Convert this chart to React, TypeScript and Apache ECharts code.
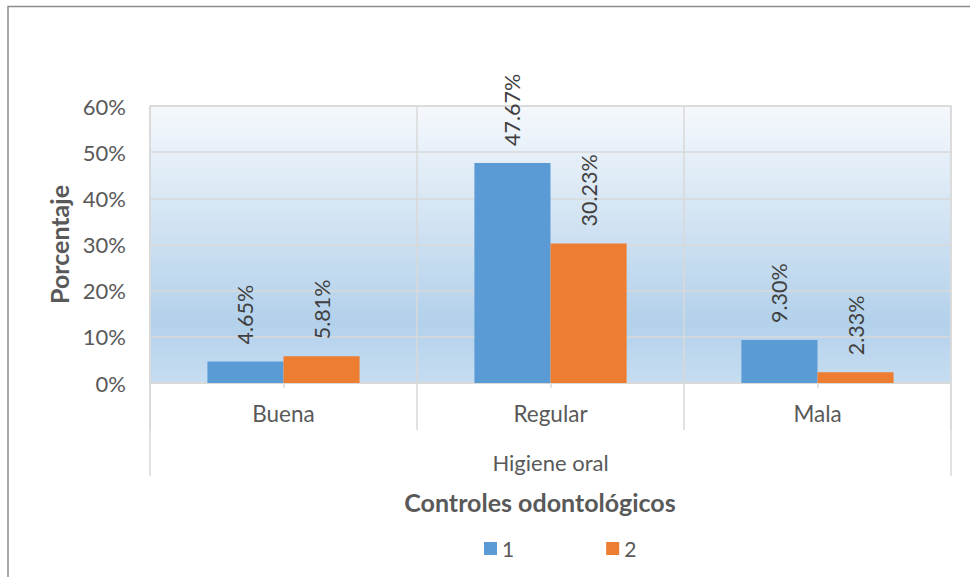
import React, { useEffect, useRef } from "react";
import * as echarts from "echarts";

// Higiene oral por número de controles odontológicos (porcentajes)
const categories = ["Buena", "Regular", "Mala"];
const serie1 = [4.65, 47.67, 9.3];
const serie2 = [5.81, 30.23, 2.33];
const seriesNames = ["1", "2"];
const yTicks = [0, 10, 20, 30, 40, 50, 60];
const groupLabel = ["Higiene oral"];

const FONT = "Lato, 'Open Sans', sans-serif";
const GRID = "#d9d9d9";

export default function App() {
  const ref = useRef<HTMLDivElement>(null);

  useEffect(() => {
    if (!ref.current) return;
    const chart = echarts.init(ref.current, null, { renderer: "svg" });

    const dataLabel = {
      show: true,
      position: "top",
      rotate: 90,
      align: "left",
      verticalAlign: "middle",
      distance: 17,
      color: "#404040",
      fontFamily: FONT,
      fontSize: 21.5,
      formatter: (p: any) => `${Number(p.value).toFixed(2)}%`,
    };

    chart.setOption({
      animation: false,
      backgroundColor: "#ffffff",
      textStyle: { fontFamily: FONT },
      title: {
        text: "Controles odontológicos",
        left: 535,
        top: 484,
        textAlign: "center",
        textStyle: { fontFamily: FONT, fontSize: 25, fontWeight: "bold", color: "#595959" },
      },
      legend: {
        data: seriesNames,
        left: 479,
        top: 533,
        icon: "rect",
        itemWidth: 13,
        itemHeight: 13,
        itemGap: 92,
        textStyle: { fontFamily: FONT, fontSize: 21, color: "#595959" },
      },
      graphic: [
        {
          type: "rect",
          shape: { x: 8, y: 6.5, width: 1200, height: 800 },
          style: { fill: "none", stroke: "#8c8c8c", lineWidth: 1.5 },
          silent: true,
        },
      ],
      grid: {
        left: 150,
        right: 19,
        top: 106,
        bottom: 194,
        show: true,
        borderColor: GRID,
        borderWidth: 1.5,
        backgroundColor: {
          type: "linear",
          x: 0,
          y: 0,
          x2: 0,
          y2: 1,
          colorStops: [
            { offset: 0, color: "#f5f8fc" },
            { offset: 0.78, color: "#b3d1eb" },
            { offset: 1, color: "#c6ddf1" },
          ],
        },
      },
      xAxis: [
        {
          type: "category",
          data: categories,
          position: "bottom",
          axisLine: { show: true, lineStyle: { color: GRID, width: 1.5 } },
          axisTick: { show: true, length: 47, lineStyle: { color: GRID, width: 1.5 } },
          axisLabel: { margin: 19, fontSize: 22.5, color: "#595959", fontFamily: FONT },
          splitLine: { show: true, lineStyle: { color: GRID, width: 1.5 } },
        },
        {
          type: "category",
          data: categories,
          position: "bottom",
          axisLine: { show: false },
          axisTick: { show: true, alignWithLabel: true, length: 5, lineStyle: { color: GRID, width: 1.5 } },
          axisLabel: { show: false },
          splitLine: { show: false },
        },
        {
          type: "category",
          data: groupLabel,
          position: "bottom",
          axisLine: { show: false },
          axisTick: { show: true, length: 93, lineStyle: { color: GRID, width: 1.5 } },
          axisLabel: { margin: 68, fontSize: 22, color: "#595959", fontFamily: FONT },
          splitLine: { show: false },
        },
      ],
      yAxis: {
        type: "value",
        min: yTicks[0],
        max: yTicks[yTicks.length - 1],
        interval: 10,
        name: "Porcentaje",
        nameLocation: "middle",
        nameGap: 76,
        nameTextStyle: { fontFamily: FONT, fontSize: 25, fontWeight: "bold", color: "#595959" },
        axisLine: { show: false },
        axisTick: { show: false },
        axisLabel: {
          formatter: (v: number) => `${v}%`,
          fontSize: 22,
          color: "#595959",
          fontFamily: FONT,
          margin: 24,
        },
        splitLine: { show: true, lineStyle: { color: GRID, width: 1.5 } },
      },
      series: [
        {
          name: seriesNames[0],
          type: "bar",
          xAxisIndex: 0,
          data: serie1,
          barGap: "0%",
          barCategoryGap: "43%",
          itemStyle: { color: "#5b9bd5" },
          label: dataLabel,
        },
        {
          name: seriesNames[1],
          type: "bar",
          xAxisIndex: 0,
          data: serie2,
          barGap: "0%",
          barCategoryGap: "43%",
          itemStyle: { color: "#ed7d31" },
          label: dataLabel,
        },
      ],
    });

    return () => chart.dispose();
  }, []);

  return (
    <div
      ref={ref}
      style={{ position: "absolute", left: 0, top: 0, width: 970, height: 577 }}
    />
  );
}
